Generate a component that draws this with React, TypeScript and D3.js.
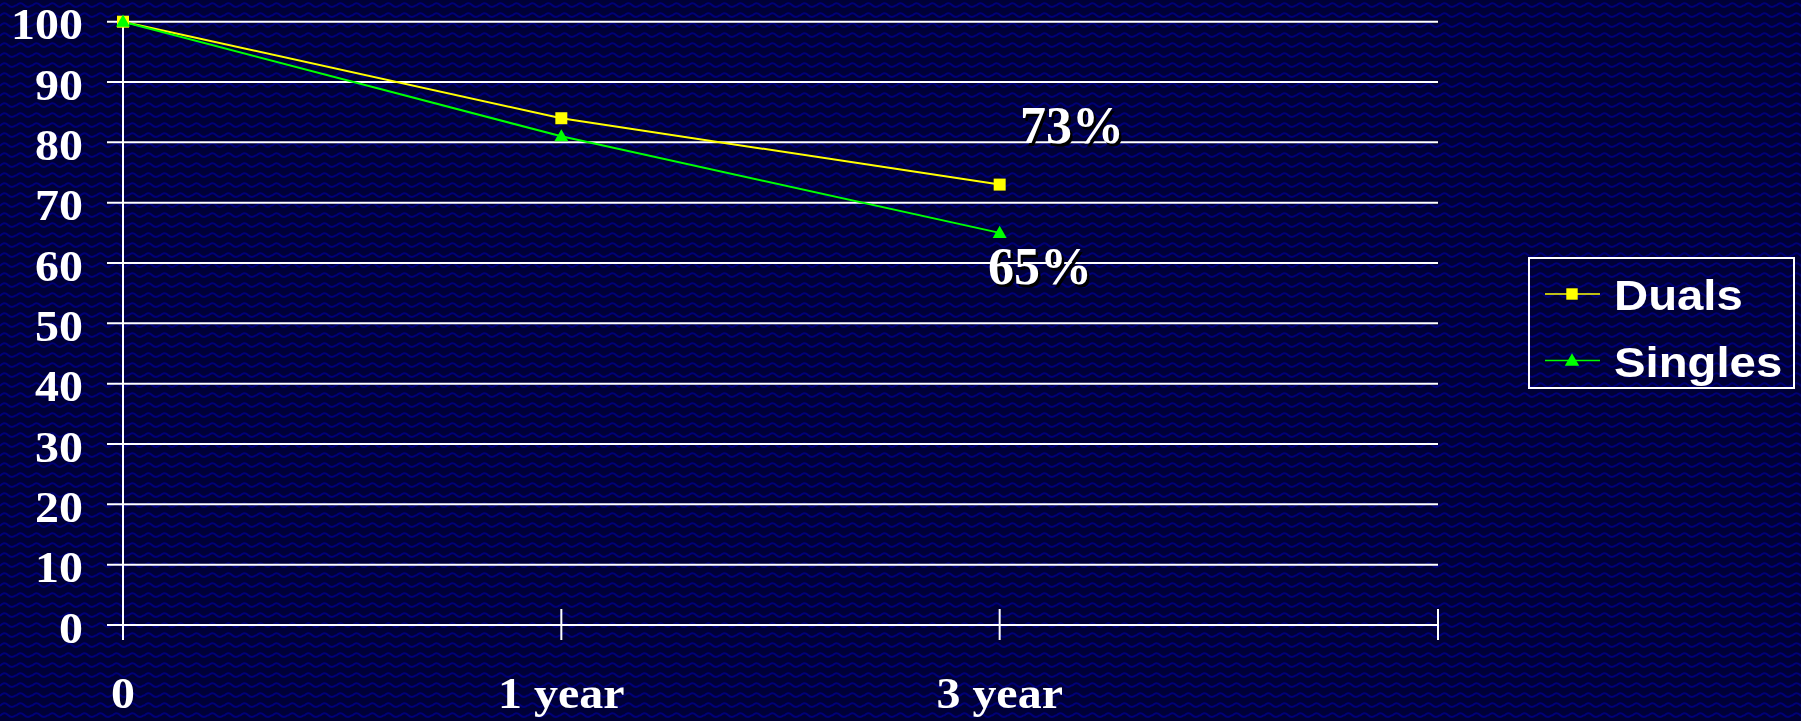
import React, { useEffect, useRef } from 'react';
import { select, scaleLinear, scalePoint, line, symbol, symbolSquare, symbolTriangle, range } from 'd3';

const categories = ['0', '1 year', '3 year'];
const duals = [100, 84, 73];
const singles = [100, 81, 65];
const yTicks = [0, 10, 20, 30, 40, 50, 60, 70, 80, 90, 100];
const seriesNames = ['Duals', 'Singles'];
const endLabels = ['73%', '65%'];

const W = 1801;
const H = 721;

const App: React.FC = () => {
    const svgRef = useRef<SVGSVGElement>(null);

    useEffect(() => {
        if (!svgRef.current) return;
        const svg = select(svgRef.current);
        svg.html('');

        const margin = { top: 21.7, left: 123, right: 363, bottom: 96 };

        // background with the wavy slide texture
        const defs = svg.append('defs');
        const pat = defs.append('pattern')
            .attr('id', 'waves')
            .attr('width', 16)
            .attr('height', 10)
            .attr('patternUnits', 'userSpaceOnUse');
        pat.append('rect').attr('width', 16).attr('height', 10).attr('fill', '#000036');
        pat.append('path')
            .attr('d', 'M0,6 Q4,1 8,5 T16,5')
            .attr('fill', 'none')
            .attr('stroke', '#000078')
            .attr('stroke-width', 2);
        svg.append('rect').attr('width', W).attr('height', H).attr('fill', 'url(#waves)');

        // extra empty slot on the right so the last tick sits at the plot edge
        const x = scalePoint<string>()
            .domain([...categories, ''])
            .range([margin.left, W - margin.right]);
        const y = scaleLinear().domain([0, 100]).range([H - margin.bottom, margin.top]);

        const serif = '"Liberation Serif", "Times New Roman", serif';
        const sans = '"Liberation Sans", Arial, sans-serif';
        const stretch = 1.09; // the slide text is a little wider than the font

        // gridlines
        svg.append('g')
            .selectAll('line')
            .data(yTicks)
            .enter()
            .append('line')
            .attr('x1', margin.left - 16)
            .attr('x2', W - margin.right)
            .attr('y1', d => y(d))
            .attr('y2', d => y(d))
            .attr('stroke', '#ffffff')
            .attr('stroke-width', 2);

        // y axis line
        svg.append('line')
            .attr('x1', margin.left)
            .attr('x2', margin.left)
            .attr('y1', y(100))
            .attr('y2', y(0) + 14)
            .attr('stroke', '#ffffff')
            .attr('stroke-width', 2);

        // x ticks
        svg.append('g')
            .selectAll('line')
            .data(x.domain())
            .enter()
            .append('line')
            .attr('x1', d => x(d)!)
            .attr('x2', d => x(d)!)
            .attr('y1', y(0) - 16)
            .attr('y2', y(0) + 15)
            .attr('stroke', '#ffffff')
            .attr('stroke-width', 2);

        // y labels
        svg.append('g')
            .selectAll('text')
            .data(yTicks)
            .enter()
            .append('text')
            .attr('transform', d => `translate(83, ${y(d) + 17.5}) scale(${stretch}, 1)`)
            .attr('text-anchor', 'end')
            .style('font-family', serif)
            .style('font-weight', 'bold')
            .style('font-size', '44px')
            .attr('fill', '#ffffff')
            .text(d => d);

        // x labels
        svg.append('g')
            .selectAll('text')
            .data(categories)
            .enter()
            .append('text')
            .attr('transform', d => `translate(${x(d)}, 708) scale(${stretch}, 1)`)
            .attr('text-anchor', 'middle')
            .style('font-family', serif)
            .style('font-weight', 'bold')
            .style('font-size', '44px')
            .attr('fill', '#ffffff')
            .text(d => d);

        const series = [
            { name: seriesNames[0], values: duals, color: '#ffff00', shape: symbolSquare, size: 144 },
            { name: seriesNames[1], values: singles, color: '#00ff00', shape: symbolTriangle, size: 85 }
        ];

        const lineGen = line<number>()
            .x((_, i) => x(categories[i])!)
            .y(d => y(d));

        series.forEach(s => {
            svg.append('path')
                .attr('d', lineGen(s.values))
                .attr('fill', 'none')
                .attr('stroke', s.color)
                .attr('stroke-width', 2);
        });
        series.forEach(s => {
            svg.append('g')
                .selectAll('path')
                .data(s.values)
                .enter()
                .append('path')
                .attr('d', symbol().type(s.shape).size(s.size)())
                .attr('transform', (d, i) => `translate(${x(categories[i])}, ${y(d) + (s.shape === symbolTriangle ? 1 : 0)})`)
                .attr('fill', s.color);
        });

        // end-of-line annotations with drop shadow
        const annot = [
            { text: endLabels[0], x: 1020, y: 143 },
            { text: endLabels[1], x: 988, y: 284 }
        ];
        annot.forEach(a => {
            [{ dx: 2.5, c: '#000000' }, { dx: 0, c: '#ffffff' }].forEach(l => {
                svg.append('text')
                    .attr('x', a.x + l.dx)
                    .attr('y', a.y + l.dx)
                    .style('font-family', serif)
                    .style('font-weight', 'bold')
                    .style('font-size', '52px')
                    .attr('fill', l.c)
                    .text(a.text);
            });
        });

        // legend
        const legend = svg.append('g');
        legend.append('rect')
            .attr('x', 1529)
            .attr('y', 258)
            .attr('width', 265)
            .attr('height', 130)
            .attr('fill', 'none')
            .attr('stroke', '#ffffff')
            .attr('stroke-width', 2);
        const rowY = range(series.length).map(i => 294 + i * 66.5);
        series.forEach((s, i) => {
            legend.append('line')
                .attr('x1', 1545)
                .attr('x2', 1600)
                .attr('y1', rowY[i])
                .attr('y2', rowY[i])
                .attr('stroke', s.color)
                .attr('stroke-width', 1.5);
            legend.append('path')
                .attr('d', symbol().type(s.shape).size(s.shape === symbolTriangle ? 90 : 130)())
                .attr('transform', `translate(1572, ${rowY[i] + (s.shape === symbolTriangle ? 1 : 0)})`)
                .attr('fill', s.color);
            legend.append('text')
                .attr('transform', `translate(1614, ${rowY[i] + 16}) scale(1.1, 1)`)
                .style('font-family', sans)
                .style('font-weight', 'bold')
                .style('font-size', '43px')
                .attr('fill', '#ffffff')
                .text(s.name);
        });
    }, []);

    return (
        <div style={{ position: 'fixed', left: 0, top: 0, width: W, height: H }}>
            <svg ref={svgRef} width={W} height={H} style={{ display: 'block' }}></svg>
        </div>
    );
};

export default App;
